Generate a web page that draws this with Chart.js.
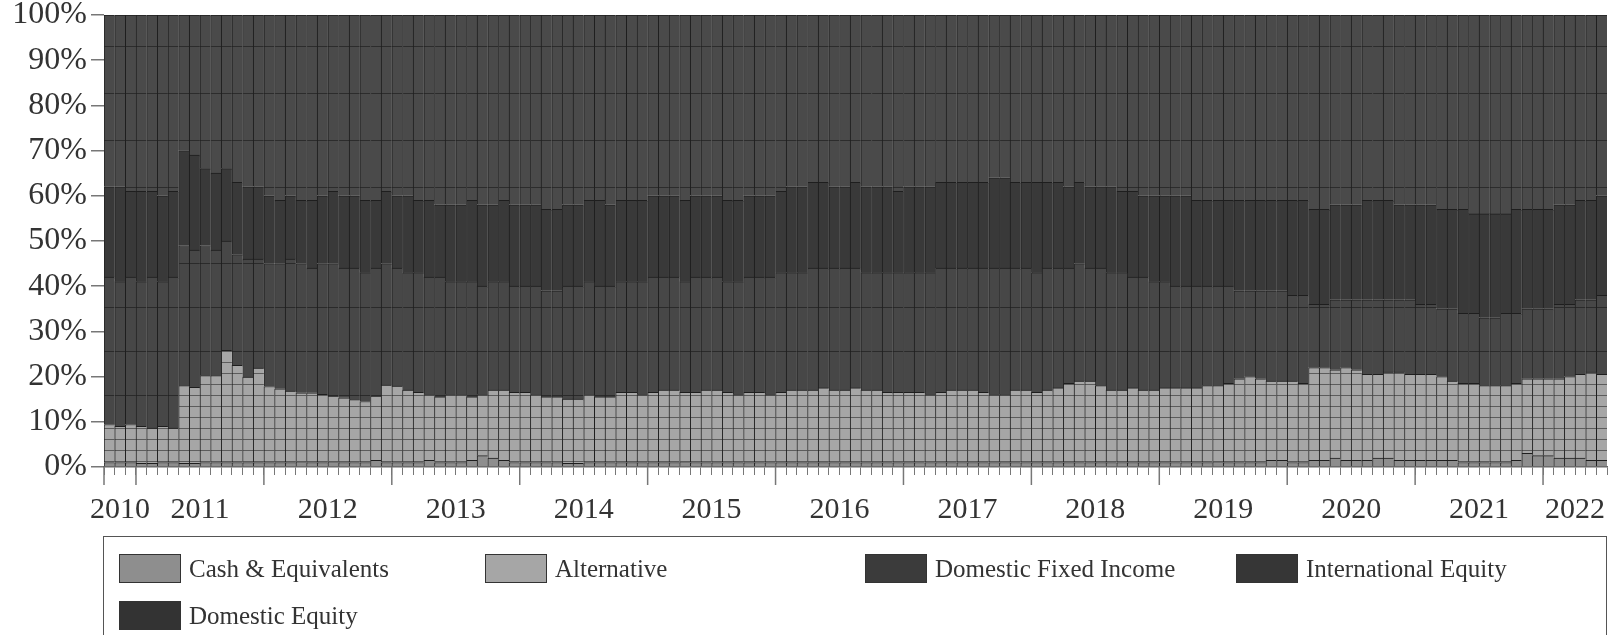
<!DOCTYPE html>
<html>
<head>
<meta charset="utf-8">
<script src="https://cdn.jsdelivr.net/npm/chart.js@4.4.0/dist/chart.umd.min.js"></script>
<style>
body { margin: 0; background: #fff; }
#wrap { position: relative; width: 1613px; height: 635px; overflow: hidden; }
#legend { position: absolute; left: 103px; top: 536px; width: 1502px; height: 110px; border: 1.5px solid #555;
  font-family: "Liberation Serif", serif; font-size: 25px; color: #333; }
.item { position: absolute; display: flex; align-items: center; }
.sw { width: 62px; height: 29px; box-sizing: border-box; border: 1.5px solid #333; margin-right: 8px; }
</style>
</head>
<body>
<div id="wrap">
  <canvas id="myChart" width="1613" height="635"></canvas>
  <div id="legend"></div>
</div>

<script>
// monthly allocation, Oct 2010 .. Jun 2022 (percent of total)
const yearLabels = ["2010","2011","2012","2013","2014","2015","2016","2017","2018","2019","2020","2021","2022"];
const seriesNames = ["Cash & Equivalents", "Alternative", "Domestic Fixed Income", "International Equity", "Domestic Equity"];

const cash = [
  1,1,1,0.8,0.8,1,1,0.8,0.8,1,1,1,1,1,1,
  1,1,1,1.2,1,1,1.2,1,1,1,1.5,1,
  1,1,1,1.5,1,1,1,1.5,2.5,2,1.5,1,
  1,1,1,1,0.8,0.8,1,1,1,1,1,1,
  1,1,1,1.2,1,1,1,1,1,1,1,1,
  1,1,1,1,1,1,1,1,1,1,1,1,
  1,1,1,1,1,1,1,1,1,1,1,1,
  1,1,1,1,1,1,1,1,1,1,1,1,
  1,1,1,1,1,1.2,1,1,1,1,1.5,1.5,
  1,1,1.5,1.5,2,1.5,1.5,1.5,2,2,1.5,1.5,
  1.5,1.5,1.5,1.5,1,1,1,1,1,1.5,3,2.5,
  2.5,2,2,2,1.5,1.5
];
const alternative = [
  8.4,8.0,8.4,8.2,7.8,8.0,7.6,17.2,16.8,19.2,19.2,24.8,21.5,18.9,20.9,
  16.8,16.3,15.8,15.2,15.4,15.1,14.5,14.3,13.9,13.5,14.2,17.1,
  16.9,16,15.5,14.5,14.5,15,15,14,13.5,15,15.5,15.5,
  15.5,15,14.5,14.5,14.2,14.2,15,14.5,14.5,15.5,15.5,15,
  15.5,16,16,15.3,15.5,16,16,15.5,15,15.5,15.5,15,
  15.5,16,16,16,16.5,16,16,16.5,16,16,15.5,15.5,
  15.5,15.5,15,15.5,16,16,16,15.5,15,15,16,16,
  15.5,16,16.5,17.5,18,18,17,16,16,16.5,16,16,
  16.5,16.5,16.5,16.5,17,16.8,17.5,18.5,19,18.5,17.5,17.5,
  18,17.5,20.5,20.5,19.5,20.5,20,19,18.5,19,19.5,19,
  19,19,18.5,17.5,17.5,17.5,17,17,17,17,16.5,17,
  17,17.5,18,18.5,19.5,19
];
const domesticFixedIncome = [
  32.6,32.0,32.6,32.0,33.4,32.0,33.4,31.0,30.4,28.8,27.8,24.2,24.5,26.1,24.1,
  27.2,27.7,29.2,28.6,27.6,28.9,29.3,28.7,29.1,28.5,28.3,26.9,
  26.1,26,26.5,26,26.5,25,25,25.5,24,24,24,23.5,
  23.5,24,23.5,23.5,25,25,25,24.5,24.5,24.5,24.5,25,
  25.5,25,25,24.5,25.5,25,25,24.5,25,25.5,25.5,26,
  26.5,26,26,27,26.5,27,27,26.5,26,26,26.5,26.5,
  26.5,26.5,27,27.5,27,27,27,27.5,28,28,27,27,
  26.5,27,26.5,25.5,26,25,26,26,26,24.5,25,24,
  23.5,22.5,22.5,22.5,22,22,21.5,19.5,19,19.5,20,20,
  19,19.5,14,14,15.5,15,15.5,16.5,16.5,16,16,16.5,
  15.5,15.5,15,16,15.5,15.5,15,15,16,15.5,15.5,15.5,
  15.5,16.5,16,16.5,16,17.5
];
const internationalEquity = [
  20,21,19,20,19,19,19,21,21,17,17,16,16,16,16,
  15,14,14,14,15,15,16,16,16,16,15,16,
  16,17,16,17,16,17,17,18,18,17,18,18,
  18,18,18,18,18,18,18,19,18,18,18,18,
  18,18,18,18,18,18,18,18,18,18,18,18,
  18,19,19,19,19,18,18,19,19,19,19,18,
  19,19,19,19,19,19,19,19,20,20,19,19,
  20,19,19,18,18,18,18,19,18,19,18,19,
  19,20,20,19,19,19,19,20,20,20,20,20,
  21,21,21,21,21,21,21,22,22,22,21,21,
  22,22,22,22,23,22,23,23,22,23,22,22,
  22,22,22,22,22,22
];
const domesticEquity = [
  38,38,39,39,39,40,39,30,31,34,35,34,37,38,38,
  40,41,40,41,41,40,39,40,40,41,41,39,
  40,40,41,41,42,42,42,41,42,42,41,42,
  42,42,43,43,42,42,41,41,42,41,41,41,
  40,40,40,41,40,40,40,41,41,40,40,40,
  39,38,38,37,37,38,38,37,38,38,38,39,
  38,38,38,37,37,37,37,37,36,36,37,37,
  37,37,37,38,37,38,38,38,39,39,40,40,
  40,40,40,41,41,41,41,41,41,41,41,41,
  41,41,43,43,42,42,42,41,41,41,42,42,
  42,42,43,43,43,44,44,44,44,43,43,43,
  43,42,42,41,41,40
];

// month categories, Oct 2010 onwards
const months = [];
for (let i = 0; i < cash.length; i++) {
  const m = 9 + i;
  const yr = 2010 + Math.floor(m / 12);
  const mo = (m % 12) + 1;
  months.push(yr + "-" + (mo < 10 ? "0" + mo : mo));
}

// flat gray with thin horizontal rules, like the scanned original
function stripes(fill, line, step) {
  const c = document.createElement("canvas");
  c.width = 8; c.height = step;
  const g = c.getContext("2d");
  g.fillStyle = fill; g.fillRect(0, 0, 8, step);
  g.fillStyle = line; g.fillRect(0, step - 1, 8, 1);
  return g.createPattern(c, "repeat");
}

const fills = ["#8e8e8e", stripes("#a6a6a6", "#5c5c5c", 11), stripes("#474747", "#2a2a2a", 44), "#393939", stripes("#4a4a4a", "#2c2c2c", 47)];
const swatches = ["#8e8e8e", "#a6a6a6", "#3b3b3b", "#363636", "#333333"];
const values = [cash, alternative, domesticFixedIncome, internationalEquity, domesticEquity];

const yearTicks = {
  id: "yearTicks",
  afterDraw(chart) {
    const x = chart.scales.x, ctx = chart.ctx, bottom = chart.chartArea.bottom;
    ctx.save();
    ctx.font = '30px "Liberation Serif"';
    ctx.fillStyle = "#333";
    ctx.textAlign = "center";
    ctx.textBaseline = "middle";
    ctx.strokeStyle = "#777";
    ctx.lineWidth = 1.5;
    yearLabels.forEach(function (y) {
      const idx = [];
      months.forEach(function (m, i) { if (m.indexOf(y) === 0) idx.push(i); });
      const first = idx[0], last = idx[idx.length - 1];
      const cx = (x.getPixelForValue(first) + x.getPixelForValue(last)) / 2;
      ctx.fillText(y, cx, bottom + 43);
      const bx = first > 0 ? (x.getPixelForValue(first - 1) + x.getPixelForValue(first)) / 2 : chart.chartArea.left;
      ctx.beginPath(); ctx.moveTo(bx, bottom); ctx.lineTo(bx, bottom + 18); ctx.stroke();
    });
    ctx.restore();
  }
};

Chart.defaults.font.family = '"Liberation Serif"';
Chart.defaults.color = "#333";

new Chart("myChart", {
  type: "bar",
  data: {
    labels: months,
    datasets: values.map(function (v, i) {
      return {
        label: seriesNames[i],
        data: v,
        backgroundColor: fills[i],
        borderColor: "#1e1e1e",
        borderWidth: { top: 1, left: 1, right: 0, bottom: 0 },
        borderSkipped: false,
        barPercentage: 1,
        categoryPercentage: 1
      };
    })
  },
  options: {
    responsive: false,
    animation: false,
    layout: { padding: { top: 15, right: 6, left: 0, bottom: 0 } },
    plugins: { legend: { display: false }, tooltip: { enabled: false } },
    scales: {
      x: {
        stacked: true,
        ticks: { display: false },
        grid: { drawOnChartArea: false, drawTicks: true, tickLength: 8, color: "#777", offset: true },
        border: { display: true, color: "#666", width: 1.5 },
        afterFit: function (s) { s.height = 168; }
      },
      y: {
        stacked: true,
        min: 0, max: 100,
        ticks: { stepSize: 10, padding: 4, font: { size: 32 }, callback: function (v) { return v + "%"; } },
        grid: { drawOnChartArea: false, drawTicks: true, tickLength: 13, color: "#777", lineWidth: 1.5 },
        border: { display: false },
        afterFit: function (s) { s.width = 104; s.paddingTop = 0; s.paddingBottom = 0; }
      }
    }
  },
  plugins: [yearTicks]
});

// legend box under the plot
const legendPos = [[15, 17], [381, 17], [761, 17], [1132, 17], [15, 64]];
const lg = document.getElementById("legend");
seriesNames.forEach(function (n, i) {
  const it = document.createElement("div");
  it.className = "item";
  it.style.left = legendPos[i][0] + "px";
  it.style.top = legendPos[i][1] + "px";
  const sw = document.createElement("div");
  sw.className = "sw";
  sw.style.background = swatches[i];
  const tx = document.createElement("span");
  tx.textContent = n;
  it.appendChild(sw);
  it.appendChild(tx);
  lg.appendChild(it);
});
</script>
</body>
</html>
